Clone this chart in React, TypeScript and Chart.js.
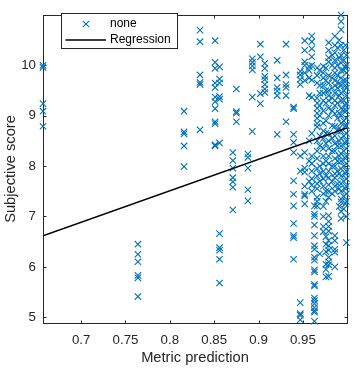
import React, { useEffect, useRef } from 'react';
import { Chart, registerables } from 'chart.js';

Chart.register(...registerables);

// ---- data ----
const xTicks = [0.7, 0.75, 0.8, 0.85, 0.9, 0.95];
const yTicks = [5, 6, 7, 8, 9, 10];
const xRange = [0.657, 0.9997];
const yRange = [4.885, 11.0];

const columnX = [
  0.657, 0.764, 0.816, 0.834, 0.851, 0.856, 0.871, 0.875, 0.888, 0.893,
  0.902, 0.907, 0.921, 0.931, 0.9395, 0.947, 0.952, 0.957, 0.96, 0.963,
  0.966, 0.969, 0.973, 0.976, 0.979, 0.983, 0.986, 0.989, 0.991, 0.993,
  0.996, 0.998, 0.999,
];
const columnY = [
  [10.0, 9.96, 9.24, 9.09, 8.79],
  [6.45, 6.25, 6.1, 5.83, 5.78, 5.41],
  [9.09, 8.68, 8.64, 8.4, 7.99],
  [10.7, 10.47, 9.81, 9.66, 9.62, 8.72],
  [10.49, 10.06, 9.94, 9.65, 9.56, 9.37, 9.28, 9.14, 8.88, 8.84, 8.42, 8.4],
  [9.97, 9.73, 9.65, 9.38, 9.33, 8.46, 6.66, 6.38, 6.33, 6.15, 5.68],
  [8.27, 8.11, 7.96, 7.77, 7.69, 7.58, 7.13],
  [9.53, 9.08, 9.05, 8.88],
  [8.24, 8.17, 7.96, 7.53, 7.31],
  [10.13, 10.06, 9.99, 9.91, 9.37, 8.69],
  [10.42, 10.17, 9.44, 9.24],
  [10.04, 9.94, 9.78, 9.72, 9.62, 9.53, 9.46],
  [10.1, 9.75, 9.56, 9.49, 9.4, 8.63],
  [10.42, 9.81, 9.62, 9.56, 9.4, 8.88],
  [9.17, 9.14, 8.63, 8.47, 8.27, 7.71, 7.44, 7.21, 6.86, 6.62, 6.58, 6.15],
  [9.88, 9.81, 9.72, 9.62, 8.2, 7.9, 5.29, 5.07, 5.04, 4.95],
  [10.49, 10.3, 10.07, 10.0, 9.85, 9.7, 8.27, 7.96, 7.88, 7.6, 7.44, 7.41, 7.25],
  [9.98, 9.9, 9.75, 9.4, 8.5, 8.1, 7.7],
  [10.58, 10.47, 10.33, 10.17, 10.0, 9.71, 9.37, 8.65, 8.2, 8.05, 7.9, 7.75, 7.62, 7.5],
  [7.21, 7.05, 7.0, 6.83, 6.62, 6.42, 6.35, 6.19, 6.13, 5.94, 5.9, 5.65, 5.62, 5.38, 5.33, 5.27, 5.19, 5.13, 5.1, 4.92],
  [9.95, 9.8, 9.65, 9.35, 9.25, 9.15, 9.05, 8.95, 8.85, 8.78, 8.5, 8.3, 8.15, 7.95, 7.8, 7.65, 7.55, 7.38, 7.3, 7.21],
  [9.9, 9.6, 9.45, 9.2, 9.0, 8.6, 8.4, 8.0, 7.85, 7.7, 6.26],
  [9.98, 9.85, 9.75, 9.6, 9.45, 9.3, 9.1, 8.85, 8.7, 8.55, 8.35, 8.2, 8.05, 7.9, 7.75, 7.6, 7.45, 7.2, 7.0, 6.8, 6.7],
  [9.95, 9.7, 9.5, 9.25, 8.9, 8.65, 8.45, 8.1, 7.8, 7.5, 7.3, 6.6, 6.45, 6.3, 6.05, 5.95, 5.8],
  [10.45, 10.3, 10.15, 10.07, 9.8, 9.65, 9.5, 9.4, 9.3, 9.15, 9.0, 8.65, 8.5, 8.35, 8.2, 8.05, 7.9, 7.77, 7.63, 7.5, 7.38, 7.02, 6.9, 6.8, 6.71, 6.52, 6.42, 6.33, 6.19, 6.1, 6.04, 5.81],
  [10.2, 10.0, 9.75, 9.55, 9.35, 9.1, 8.8, 8.55, 8.3, 8.0, 7.7, 7.45],
  [10.58, 10.4, 10.25, 10.1, 9.95, 9.85, 9.7, 9.6, 9.45, 9.3, 9.2, 9.04, 8.79, 8.6, 8.45, 8.3, 8.15, 8.0, 7.85, 7.77, 7.6, 7.5, 6.62, 6.52, 6.35, 6.29, 6.0],
  [10.35, 10.0, 9.8, 9.55, 9.25, 8.95, 8.7, 8.4, 8.1, 7.9, 7.65],
  [10.5, 10.15, 9.65, 9.4, 9.05, 8.75, 8.5, 8.2, 7.85, 7.55, 7.2],
  [11.0, 10.87, 10.71, 10.4, 10.2, 10.05, 9.9, 9.75, 9.6, 9.45, 9.3, 9.15, 9.0, 8.85, 8.7, 8.55, 8.4, 8.25, 8.1, 7.95, 7.8, 7.65, 7.5, 7.35, 7.29, 7.1, 6.96],
  [10.3, 10.1, 9.9, 9.7, 9.5, 9.3, 9.1, 8.9, 8.6, 8.3, 8.0, 7.7, 7.4, 7.15],
  [10.4, 9.95, 9.6, 9.2, 8.8, 8.45, 8.15, 7.85, 7.55, 7.25],
  [10.2, 10.0, 9.85, 9.7, 9.55, 9.4, 9.25, 9.1, 8.95, 8.8, 8.65, 8.5, 8.35, 8.2, 8.05, 7.9, 7.75, 7.6, 7.45, 7.3, 7.0, 6.48],
];

const regressionX = [0.657, 0.9997];
const regressionY = [6.615, 8.756];

const legendLabels = ['none', 'Regression'];
const axisTitles = ['Metric prediction', 'Subjective score'];

const BLUE = '#0072BD';
const AXIS = '#262626';
const FONT = '"Liberation Sans", Arial, Helvetica, sans-serif';

const framePlugin = {
  id: 'matlabFrame',
  beforeDatasetsDraw(chart: any) {
    const { ctx, chartArea: a, scales } = chart;
    const L = Math.round(a.left) + 0.5;
    const R = Math.round(a.right) + 0.5;
    const T = Math.round(a.top) + 0.5;
    const B = Math.round(a.bottom) + 0.5;
    const tl = 3;
    ctx.save();
    ctx.strokeStyle = AXIS;
    ctx.lineWidth = 1;
    ctx.beginPath();
    for (const t of scales.x.ticks) {
      const p = Math.round(scales.x.getPixelForValue(t.value)) + 0.5;
      ctx.moveTo(p, B); ctx.lineTo(p, B - tl);
      ctx.moveTo(p, T); ctx.lineTo(p, T + tl);
    }
    for (const t of scales.y.ticks) {
      const p = Math.round(scales.y.getPixelForValue(t.value)) + 0.5;
      ctx.moveTo(L, p); ctx.lineTo(L + tl, p);
      ctx.moveTo(R, p); ctx.lineTo(R - tl, p);
    }
    ctx.stroke();
    ctx.strokeRect(L, T, R - L, B - T);
    ctx.restore();
  },
};

const legendPlugin = {
  id: 'boxLegend',
  afterDraw(chart: any) {
    const { ctx } = chart;
    const bx = 61.5, by = 13.5, bw = 116, bh = 35;
    ctx.save();
    ctx.fillStyle = '#ffffff';
    ctx.fillRect(bx, by, bw, bh);
    ctx.strokeStyle = AXIS;
    ctx.lineWidth = 1;
    ctx.strokeRect(bx, by, bw, bh);
    const mx = 86, my = 24, r = 3.2;
    ctx.strokeStyle = BLUE;
    ctx.lineWidth = 1.1;
    ctx.beginPath();
    ctx.moveTo(mx - r, my - r); ctx.lineTo(mx + r, my + r);
    ctx.moveTo(mx - r, my + r); ctx.lineTo(mx + r, my - r);
    ctx.stroke();
    ctx.strokeStyle = '#000';
    ctx.lineWidth = 1.5;
    ctx.beginPath();
    ctx.moveTo(65.5, 40); ctx.lineTo(106, 40);
    ctx.stroke();
    ctx.fillStyle = '#000';
    ctx.font = `12px ${FONT}`;
    ctx.textBaseline = 'middle';
    ctx.textAlign = 'left';
    ctx.fillText(legendLabels[0], 110, 24);
    ctx.fillText(legendLabels[1], 110, 40);
    ctx.restore();
  },
};

const fmt = (v: any) => String(+(+v).toFixed(2));

export default function App() {
  const ref = useRef<HTMLCanvasElement>(null);
  useEffect(() => {
    document.body.style.margin = '0';
    const points: { x: number; y: number }[] = [];
    columnX.forEach((x, i) => columnY[i].forEach((y) => points.push({ x, y })));
    const reg = regressionX.map((x, i) => ({ x, y: regressionY[i] }));
    const chart = new Chart(ref.current!, {
      type: 'scatter',
      data: {
        datasets: [
          {
            type: 'line',
            label: legendLabels[1],
            data: reg,
            borderColor: '#000',
            borderWidth: 1.5,
            pointRadius: 0,
            fill: false,
          } as any,
          {
            label: legendLabels[0],
            data: points,
            pointStyle: 'crossRot',
            pointRadius: 4.5,
            pointBorderWidth: 1.1,
            borderColor: BLUE,
            pointBorderColor: BLUE,
            backgroundColor: BLUE,
            pointBackgroundColor: BLUE,
            clip: false,
          } as any,
        ],
      },
      options: {
        animation: false,
        responsive: false,
        devicePixelRatio: 1,
        events: [],
        layout: { padding: { top: 5, right: 7, left: 0, bottom: 0 } },
        plugins: { legend: { display: false }, tooltip: { enabled: false } },
        scales: {
          x: {
            type: 'linear',
            min: xRange[0],
            max: xRange[1],
            afterBuildTicks: (s: any) => { s.ticks = xTicks.map((v) => ({ value: v })); },
            afterFit: (s: any) => { s.height = 47; },
            grid: { display: false, drawTicks: false },
            border: { display: false },
            ticks: { callback: fmt, color: AXIS, padding: 9, maxRotation: 0, autoSkip: false, font: { family: FONT, size: 13.3 } },
            title: { display: true, text: axisTitles[0], color: AXIS, font: { family: FONT, size: 14.7 }, padding: { top: 0, bottom: 3 } },
          },
          y: {
            type: 'linear',
            min: yRange[0],
            max: yRange[1],
            afterBuildTicks: (s: any) => { s.ticks = yTicks.map((v) => ({ value: v })); },
            afterFit: (s: any) => { s.width = 43; },
            grid: { display: false, drawTicks: false },
            border: { display: false },
            ticks: { callback: fmt, color: AXIS, padding: 7, autoSkip: false, font: { family: FONT, size: 13.3 } },
            title: { display: true, text: axisTitles[1], color: AXIS, font: { family: FONT, size: 14.7 }, padding: { top: 2, bottom: 0 } },
          },
        },
      },
      plugins: [framePlugin, legendPlugin],
    } as any);
    return () => chart.destroy();
  }, []);
  return (
    <div style={{ position: 'absolute', left: 0, top: 0, width: 354, height: 370, background: '#fff' }}>
      <canvas ref={ref} width={354} height={370} style={{ width: 354, height: 370, display: 'block' }} />
    </div>
  );
}
